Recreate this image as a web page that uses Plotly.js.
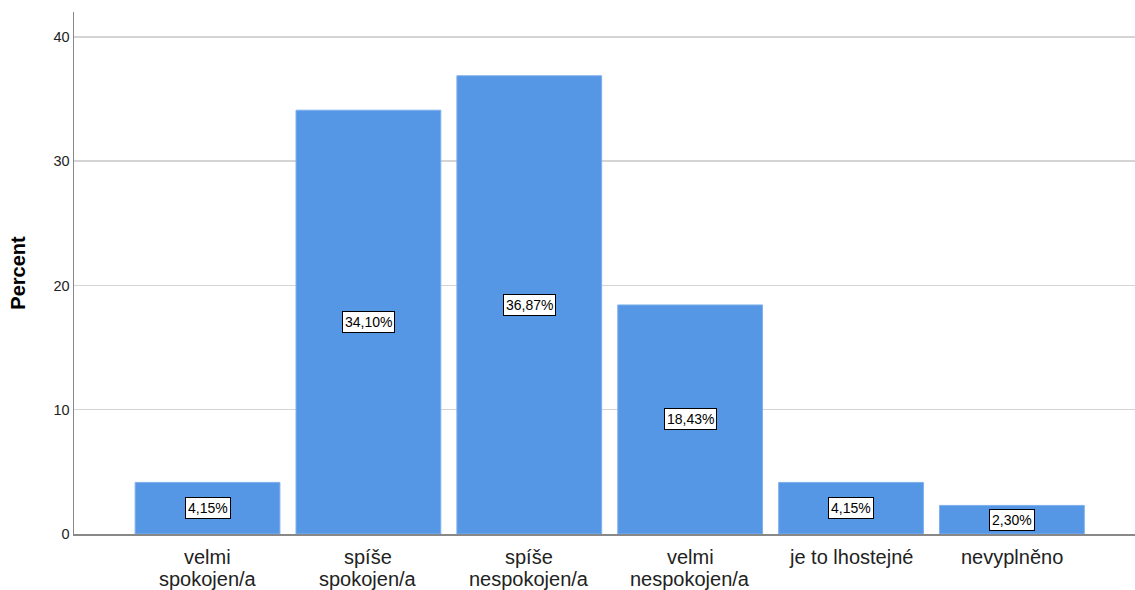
<!DOCTYPE html>
<html><head><meta charset="utf-8">
<script src="https://cdn.plot.ly/plotly-3.0.1.min.js"></script>
<style>body{margin:0;background:#fff}#chart{width:1135px;height:590px}</style>
</head><body><div id="chart"></div>
<script>
var categories = ["velmi<br>spokojen/a","spíše<br>spokojen/a","spíše<br>nespokojen/a","velmi<br>nespokojen/a","je to lhostejné","nevyplněno"];
var percents = [4.15, 34.10, 36.87, 18.43, 4.15, 2.30];
var labels = ["4,15%","34,10%","36,87%","18,43%","4,15%","2,30%"];
var yTicks = [0,10,20,30,40];

var FONT = 'Liberation Sans, Arial, sans-serif';
var idx = categories.map(function(c,i){return i;});
var trace = {
  type: 'bar',
  x: idx,
  y: percents,
  marker: {color: '#5596e5', line: {color: '#7fb0ec', width: 1}},
  hoverinfo: 'none'
};
var annotations = percents.map(function(v,i){
  return {x: i, y: v/2, text: labels[i], showarrow: false,
    bgcolor: '#ffffff', bordercolor: '#000000', borderwidth: 1, borderpad: 2,
    font: {family: FONT, size: 14, color: '#000'}};
});
// category labels, one annotation per line for tight line spacing
categories.forEach(function(c,i){
  c.split('<br>').forEach(function(line,j){
    annotations.push({x: i, y: 0, xref: 'x', yref: 'y', text: line, showarrow: false,
      yanchor: 'middle', yshift: -23 - 22*j,
      font: {family: FONT, size: 20, color: '#222'}});
  });
});
var layout = {
  width: 1135, height: 590,
  margin: {l: 74, r: 0, t: 12, b: 56},
  paper_bgcolor: '#fff', plot_bgcolor: '#fff',
  bargap: 0.1,
  showlegend: false,
  xaxis: {
    tickmode: 'array', tickvals: idx, showticklabels: false,
    range: [-0.83, 5.765], showgrid: false, zeroline: false,
    showline: true, linecolor: '#888888', linewidth: 1.5, ticks: ''
  },
  yaxis: {
    range: [0, 42], tickmode: 'array', tickvals: yTicks, ticktext: yTicks.map(String),
    showgrid: true, gridcolor: '#d4d4d4', gridwidth: 1.5, zeroline: false,
    showline: true, linecolor: '#888888', linewidth: 1.5, ticks: '', ticklen: 0,
    tickfont: {family: FONT, size: 14.5, color: '#222'},
    title: {text: '<b>Percent</b>', standoff: 22, font: {family: FONT, size: 20, color: '#000'}}
  },
  annotations: annotations
};
Plotly.newPlot('chart', [trace], layout, {displayModeBar: false, staticPlot: true});
</script></body></html>
